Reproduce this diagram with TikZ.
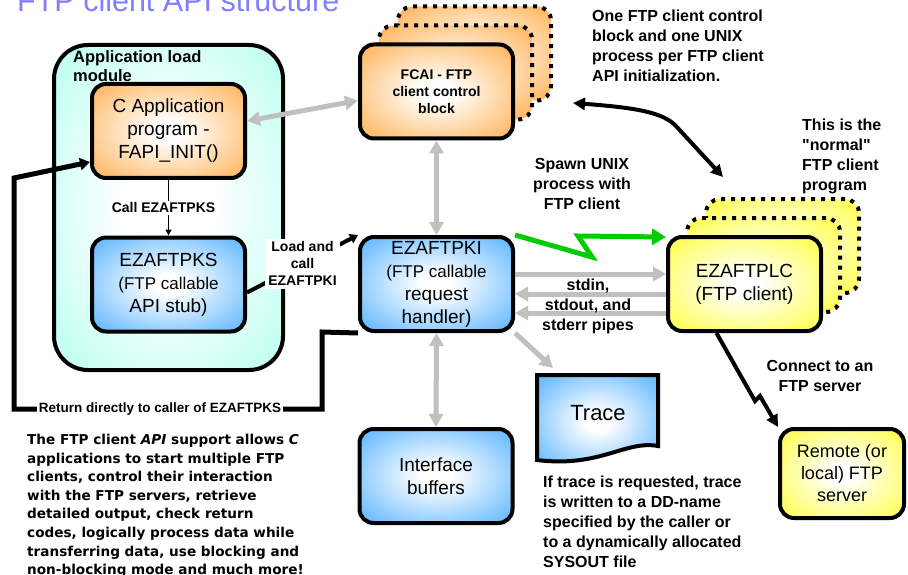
\documentclass[tikz,border=0pt]{standalone}
\usepackage{fontspec}
\setmainfont{Liberation Sans}
\newfontfamily\notefont{DejaVu Sans}
\usetikzlibrary{arrows.meta}

\definecolor{orangeC}{RGB}{255,166,60}
\definecolor{blueC}{RGB}{64,168,255}
\definecolor{yellowC}{RGB}{255,255,40}
\definecolor{cyanC}{RGB}{168,255,236}
\definecolor{pipeC}{RGB}{192,192,192}
\definecolor{spawnC}{RGB}{0,204,0}
\definecolor{titleC}{RGB}{128,128,255}

% white centre fading out to the box colour near the border
\pgfdeclareradialshading{orangeglow}{\pgfpoint{0bp}{0bp}}{color(0bp)=(white); color(5bp)=(white); color(40bp)=(orangeC); color(100bp)=(orangeC)}
\pgfdeclareradialshading{blueglow}{\pgfpoint{0bp}{0bp}}{color(0bp)=(white); color(5bp)=(white); color(40bp)=(blueC); color(100bp)=(blueC)}
\pgfdeclareradialshading{yellowglow}{\pgfpoint{0bp}{0bp}}{color(0bp)=(white); color(5bp)=(white); color(40bp)=(yellowC); color(100bp)=(yellowC)}
\pgfdeclareradialshading{cyanglow}{\pgfpoint{0bp}{0bp}}{color(0bp)=(white); color(10bp)=(white); color(42bp)=(cyanC); color(100bp)=(cyanC)}

\newcommand\pxfont[2]{\fontsize{#1}{#2}\selectfont}

\begin{document}
\begin{tikzpicture}[
  x=1pt, y=-1pt,
  every node/.style={inner sep=1pt},
  box/.style={draw, line width=4pt, rounded corners=14pt, shade,
    minimum width=153pt, minimum height=94pt, align=center, inner sep=0pt,
    font=\pxfont{19}{23}},
  stackcopy/.style={draw, line width=4pt, dash pattern=on 4pt off 6pt,
    rounded corners=14pt, shade, minimum width=153pt, minimum height=94pt},
  note/.style={font=\bfseries\pxfont{16}{20}, align=left, inner sep=0pt},
  tag/.style={fill=white, font=\bfseries\pxfont{14}{17}, align=center, inner sep=2pt},
  pipe/.style={draw=pipeC, line width=5pt, -{Triangle[length=13pt, width=14pt]}},
  pipes/.style={draw=pipeC, line width=5pt,
    {Triangle[length=13pt, width=14pt]}-{Triangle[length=13pt, width=14pt]}},
  flow/.style={draw, line width=4pt, -{Triangle[length=12pt, width=12pt]}}]

  \useasboundingbox (0,0) rectangle (908,575);

  % title, running off the top edge
  \node[anchor=base west, inner sep=0pt, text=titleC, font=\pxfont{30.5}{36}]
    (title) at (17,12) {FTP client API structure};

  % application load module
  \node[draw, line width=4pt, rounded corners=34pt, shade, shading=cyanglow,
    minimum width=229pt, minimum height=325pt] (module) at (168.5,207.5) {};
  \node[note, anchor=north west, font=\bfseries\pxfont{16.5}{19}]
    (modlabel) at (73,50) {Application load\\module};

  \node[box, shading=orangeglow] (app) at (168.5,131)
    {C Application\\program -\\FAPI\_INIT()};
  \node[box, shading=blueglow] (pks) at (168.5,284.5)
    {EZAFTPKS\\\pxfont{17}{21}(FTP callable\\API stub)};

  % control blocks, one per initialization
  \foreach \k/\d in {3/38,2/19}
    \node[stackcopy, shading=orangeglow] (fcai\k) at (436.5+\d,91.5-\d) {};
  \node[box, shading=orangeglow, font=\bfseries\pxfont{14}{17}] (fcai) at (436.5,91.5)
    {FCAI - FTP\\client control\\block};

  \node[box, shading=blueglow] (pki) at (436.5,284)
    {EZAFTPKI\\\pxfont{17}{21}(FTP callable\\request\\handler)};
  \node[box, shading=blueglow] (buf) at (436,476) {Interface\\buffers};

  % FTP client processes
  \foreach \k/\d in {3/38,2/19}
    \node[stackcopy, shading=yellowglow] (plc\k) at (744.5+\d,284-\d) {};
  \node[box, shading=yellowglow] (plc) at (744.5,284) {EZAFTPLC\\(FTP client)};

  \node[box, shading=yellowglow, minimum width=124pt, minimum height=89pt,
    font=\pxfont{18}{22}] (srv) at (842,473.5) {Remote (or\\local) FTP\\server};

  % trace data set
  \path[draw, line width=4pt, shade, shading=blueglow]
    (537,375) -- (658,375) -- (658,446)
    .. controls (625,440) and (600,468) .. (537,460) -- cycle;
  \node[font=\pxfont{22}{26}] (trace) at (598,413) {Trace};
  \coordinate (tracetip) at (553,368);

  % grey data paths
  \draw[pipes] ([yshift=10pt]app.east) -- ([yshift=-9pt]fcai.west);
  \draw[pipes] (fcai.south) -- (pki.north);
  \draw[pipes] (pki.south) -- (buf.north);
  \draw[pipe] ([yshift=10pt]pki.east) -- ([yshift=10pt]plc.west);
  \draw[pipe] ([yshift=-10pt]plc.west) -- ([yshift=-10pt]pki.east);
  \draw[pipe] ([yshift=-29pt]plc.west) -- ([yshift=-29pt]pki.east);
  \draw[pipe] (pki.south east) -- (tracetip);

  % calls
  \draw[line width=1.5pt, -{Triangle[length=6pt, width=6pt]}] (app.south) -- (pks.north)
    node[tag, midway, xshift=-5pt] (calltag) {Call EZAFTPKS};
  \draw[line width=4pt, -{Triangle[length=8pt, width=10pt]}]
    ([yshift=-8pt]pks.east) -- (pki.north west)
    node[tag, midway, inner sep=3pt] (loadtag) {Load and\\call\\EZAFTPKI};
  \draw[line width=5pt, -{Triangle[length=10pt, width=12pt]}]
    (pki.south west) -- (322,332) -- (322,409) -- (14,409) -- (14,178)
    -- ([yshift=-31pt]app.west);
  \node[tag, font=\bfseries\pxfont{13.5}{16}, inner sep=1.5pt] (rettag) at (160,409)
    {Return directly to caller of EZAFTPKS};

  % spawn and connect
  \draw[draw=spawnC, line width=5pt, -{Triangle[length=14pt, width=16pt]}]
    (pki.north east) -- (592,257) -- (578,236) -- ([yshift=47pt]plc.west);
  \draw[flow] ([xshift=-28pt]plc.south) -- (755,401) -- (760,396) -- (srv.north west);

  % one block and one process per initialization
  \coordinate (fcaitip) at (573,103);
  \coordinate (plctip) at (723,177);
  \draw[line width=4pt, {Triangle[length=12pt, width=12pt]}-{Triangle[length=12pt, width=12pt]}]
    (fcaitip) .. controls (640,108) and (662,113) .. (675,125) -- (plctip);

  % notes
  \node[note, anchor=north west] (blocknote) at (592,10)
    {One FTP client control\\block and one UNIX\\process per FTP client\\API initialization.};
  \node[note, anchor=north west] (plcnote) at (802,119)
    {This is the\\\textquotedbl normal\textquotedbl\\FTP client\\program};
  \node[note, align=center] (spawnnote) at (582,184)
    {Spawn UNIX\\process with\\FTP client};
  \node[note, align=center] (pipenote) at (588,306)
    {stdin,\\stdout, and\\stderr pipes};
  \node[note, align=center] (srvnote) at (820,376) {Connect to an\\FTP server};
  \node[note, anchor=north west] (tracenote) at (543,476)
    {If trace is requested, trace\\is written to a DD-name\\specified by the caller or\\to a dynamically allocated\\SYSOUT file};
  \node[note, anchor=north west, font=\notefont\bfseries\pxfont{13.6}{18.6}]
    (summary) at (27,434)
    {The FTP client \textit{API} support allows \textit{C}\\applications to start multiple FTP\\clients, control their interaction\\with the FTP servers, retrieve\\detailed output, check return\\codes, logically process data while\\transferring data, use blocking and\\non-blocking mode and much more!};
\end{tikzpicture}
\end{document}
